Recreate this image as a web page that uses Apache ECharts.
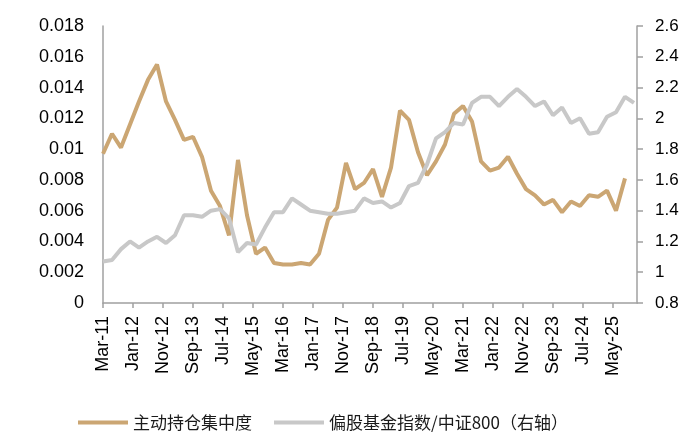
<!DOCTYPE html>
<html>
<head>
<meta charset="utf-8">
<script src="https://cdn.jsdelivr.net/npm/echarts@6/dist/echarts.min.js"></script>
<style>html,body{margin:0;padding:0;background:#fff}#c{width:700px;height:440px}</style>
</head>
<body>
<div id="c"></div>
<script>
// Quarterly observations, first point Mar-11, step 3 months
var concentration = [0.0097,0.0110,0.0101,0.0116,0.0131,0.0145,0.0155,0.0131,0.0119,0.0106,0.0108,0.0095,0.0073,0.0063,0.0044,0.0093,0.0057,0.0032,0.0036,0.0026,0.0025,0.0025,0.0026,0.0025,0.0032,0.0054,0.0062,0.0091,0.0074,0.0078,0.0087,0.0069,0.0088,0.0125,0.0119,0.0098,0.0083,0.0092,0.0103,0.0123,0.0128,0.0118,0.0092,0.0086,0.0088,0.0095,0.0084,0.0074,0.0070,0.0064,0.0067,0.0059,0.0066,0.0063,0.0070,0.0069,0.0073,0.0060,0.0081];
var fundIndexRatio = [1.07,1.08,1.15,1.20,1.16,1.20,1.23,1.19,1.24,1.37,1.37,1.36,1.40,1.41,1.35,1.13,1.19,1.18,1.29,1.39,1.39,1.48,1.44,1.40,1.39,1.38,1.38,1.39,1.40,1.48,1.45,1.46,1.42,1.45,1.56,1.58,1.70,1.87,1.91,1.97,1.96,2.10,2.14,2.14,2.08,2.14,2.19,2.14,2.08,2.11,2.02,2.07,1.97,2.00,1.90,1.91,2.01,2.04,2.14,2.10];
var seriesNames = ['主动持仓集中度', '偏股基金指数/中证800（右轴）'];
var monthNames = ['Jan','Feb','Mar','Apr','May','Jun','Jul','Aug','Sep','Oct','Nov','Dec'];
var startYear = 2011, startMonth = 2, monthCount = 179, quarterStep = 3;

var categories = [];
for (var i = 0; i < monthCount; i++) {
  var m = startMonth + i;
  var y = startYear + Math.floor(m / 12);
  categories.push(monthNames[m % 12] + '-' + String(y % 100).padStart(2, '0'));
}
function toMonthly(arr) {
  var out = new Array(monthCount).fill(null);
  arr.forEach(function (v, k) { out[k * quarterStep] = v; });
  return out;
}

var axisColor = '#A0A0A0';
var chart = echarts.init(document.getElementById('c'));
chart.setOption({
  animation: false,
  backgroundColor: '#ffffff',
  grid: { left: 103, right: 63, top: 26, bottom: 137, containLabel: false },
  legend: {
    left: 73, top: 409,
    icon: 'rect',
    itemWidth: 50, itemHeight: 4, itemGap: 22,
    textStyle: { fontFamily: 'Noto Sans CJK SC', fontSize: 17, color: '#1a1a1a' },
    data: seriesNames
  },
  xAxis: {
    type: 'category',
    data: categories,
    boundaryGap: false,
    axisLine: { lineStyle: { color: axisColor, width: 1.5 } },
    axisTick: { show: true, interval: 9, length: 5, lineStyle: { color: axisColor, width: 1.5 } },
    axisLabel: { interval: 9, rotate: 90, margin: 13, fontFamily: 'Liberation Sans', fontSize: 18, color: '#000' },
    splitLine: { show: false }
  },
  yAxis: [{
    type: 'value', min: 0, max: 0.018, interval: 0.002,
    axisLine: { show: true, lineStyle: { color: axisColor, width: 1.5 } },
    axisTick: { show: false },
    splitLine: { show: false },
    axisLabel: {
      margin: 19, fontFamily: 'Liberation Sans', fontSize: 18, color: '#000',
      formatter: function (v) { return String(parseFloat(v.toFixed(3))); }
    }
  }, {
    type: 'value', min: 0.8, max: 2.6, interval: 0.2,
    axisLine: { show: true, lineStyle: { color: axisColor, width: 1.5 } },
    axisTick: { show: true, length: 6, lineStyle: { color: axisColor, width: 1.5 } },
    splitLine: { show: false },
    axisLabel: {
      margin: 18, fontFamily: 'Liberation Sans', fontSize: 17, color: '#000',
      formatter: function (v) { return String(parseFloat(v.toFixed(1))); }
    }
  }],
  series: [{
    name: seriesNames[0], type: 'line', yAxisIndex: 0,
    data: toMonthly(concentration), connectNulls: true,
    symbol: 'none', color: '#CBA673',
    lineStyle: { width: 4, color: '#CBA673' }
  }, {
    name: seriesNames[1], type: 'line', yAxisIndex: 1,
    data: toMonthly(fundIndexRatio), connectNulls: true,
    symbol: 'none', color: '#C8C8C8',
    lineStyle: { width: 4, color: '#C8C8C8' }
  }]
});
</script>
</body>
</html>
